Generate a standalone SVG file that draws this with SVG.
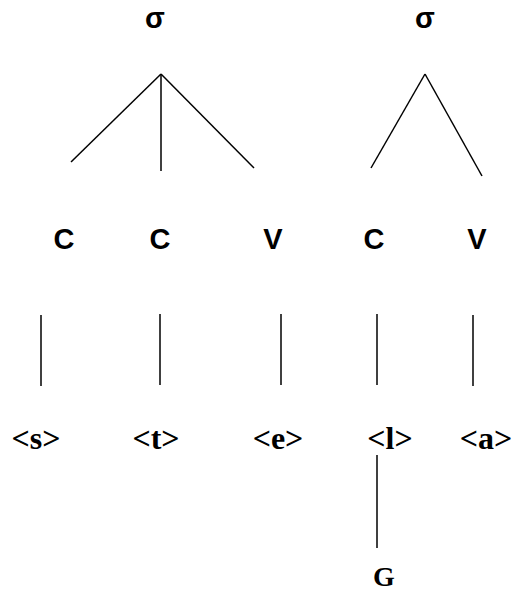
<svg xmlns="http://www.w3.org/2000/svg" width="512" height="591" viewBox="0 0 512 591">
<style>
.s{font-family:"Liberation Sans",Arial,sans-serif;font-weight:bold;font-size:29px;text-anchor:middle;fill:#000}
.t{font-family:"Liberation Serif","Times New Roman",serif;font-weight:bold;font-size:32px;text-anchor:middle;fill:#000}
.e{stroke:#000;stroke-width:1.5;fill:none}
</style>
<rect width="512" height="591" fill="#fff"/>
<g id="sigma1"><text class="s" x="155" y="28">σ</text></g>
<g id="sigma2"><text class="s" x="425" y="28">σ</text></g>
<g id="C1"><text class="s" x="64" y="249">C</text></g>
<g id="C2"><text class="s" x="160" y="249">C</text></g>
<g id="V1"><text class="s" x="273" y="249">V</text></g>
<g id="C3"><text class="s" x="374" y="249">C</text></g>
<g id="V2"><text class="s" x="477" y="249">V</text></g>
<g id="s"><text class="t" x="36" y="449">&lt;s&gt;</text></g>
<g id="t"><text class="t" x="156" y="449">&lt;t&gt;</text></g>
<g id="e"><text class="t" x="278" y="449">&lt;e&gt;</text></g>
<g id="l"><text class="t" x="390" y="449">&lt;l&gt;</text></g>
<g id="a"><text class="t" x="486" y="449">&lt;a&gt;</text></g>
<g id="G"><text class="t" x="384" y="586" style="font-size:28px">G</text></g>
<g id="connectors" class="e">
<line x1="161" y1="74" x2="71" y2="162"/>
<line x1="161" y1="74" x2="161" y2="171"/>
<line x1="161" y1="74" x2="254" y2="168"/>
<line x1="425" y1="74" x2="371" y2="168"/>
<line x1="425" y1="74" x2="482" y2="176"/>
<line x1="41" y1="315" x2="41" y2="386"/>
<line x1="160" y1="314" x2="160" y2="385"/>
<line x1="281" y1="314" x2="281" y2="385"/>
<line x1="377" y1="314" x2="377" y2="385"/>
<line x1="473" y1="315" x2="473" y2="386"/>
<line x1="377" y1="455" x2="377" y2="548"/>
</g>
</svg>
